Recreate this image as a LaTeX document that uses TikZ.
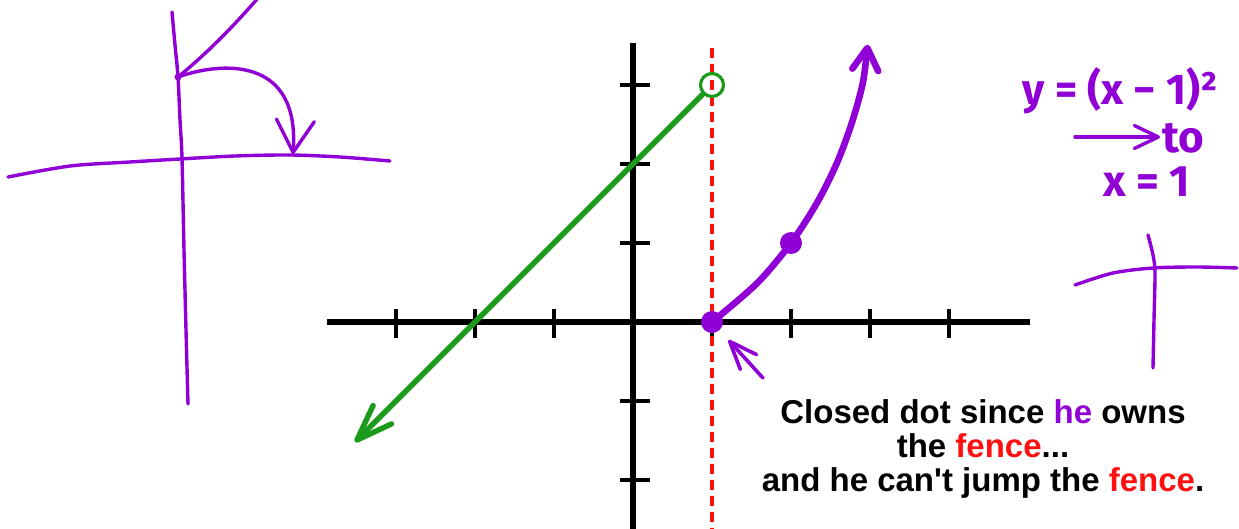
\documentclass[tikz,border=0pt]{standalone}
\usepackage{fontspec}
\setmainfont{Liberation Sans}
\newfontfamily\handfont{Fira Sans}
\usetikzlibrary{arrows.meta}
\definecolor{FenceInk}{HTML}{000000}
\definecolor{FencePurple}{HTML}{9000D6}
\definecolor{FenceGreen}{HTML}{1C9A1C}
\definecolor{FenceRed}{HTML}{FF1010}
\tikzset{
  fence/axis/.style={draw=FenceInk, line width=2.9pt},
  fence/tick/.style={draw=FenceInk, line width=1.7pt},
  fence/wall/.style={draw=FenceRed, line width=2pt, dash pattern=on 5pt off 3pt},
  fence/line/.style={
    draw=FenceGreen, line width=2.7pt, line cap=round,
    -{Straight Barb[length=18pt,width=13pt,round]}
  },
  fence/curve/.style={
    draw=FencePurple, line width=3.3pt, line cap=round,
    -{Straight Barb[length=11pt,width=13pt,round]}
  },
  fence/hole/.style={circle, draw=FenceGreen, line width=1.6pt,
    minimum size=11.5pt, inner sep=0pt},
  fence/dot/.style={circle, fill=FencePurple, minimum size=11pt, inner sep=0pt},
  fence/pin/.style={circle, fill=FencePurple, minimum size=3.5pt, inner sep=0pt},
  fence/hand/.style={draw=FencePurple, line width=1.7pt, line cap=round, line join=round},
  fence/pointer/.style={
    fence/hand, line width=1.8pt,
    -{Straight Barb[length=14pt,width=11pt,round]}
  },
  fence/handtext/.style={text=FencePurple, inner sep=1pt,
    font=\handfont\bfseries\fontsize{#1}{#1}\selectfont},
  fence/caption/.style={
    align=center, inner sep=0pt,
    font=\fontsize{16.5}{17}\selectfont\bfseries
  }
}

\begin{document}
\begin{tikzpicture}[x=0.5pt,y=-0.5pt]
  \useasboundingbox (0,0) rectangle (1239,529);
  % left sketch
  \draw[fence/hand] plot[smooth] coordinates
    {(172,12) (175,45) (178,77) (180,120) (182,158) (184,250) (186,330) (188,404)};
  \draw[fence/hand] plot[smooth] coordinates
    {(8,177) (70,166) (130,162) (180,159) (235,156) (290,155) (340,157) (390,161)};
  \node[fence/pin] (corner) at (178,77) {};
  \draw[fence/hand] (corner.center) .. controls (205,55) and (232,28) .. (258,-2);
  \draw[fence/hand, -{Straight Barb[length=16pt,width=19pt,round]}]
    (corner.center) .. controls (220,62) and (300,55) .. (293,154);
  % the graph
  \begin{scope}[shift={(316.5pt,-161pt)}, x=39.5pt, y=39.5pt]
    \draw[fence/axis] (-3.87,0) -- (5.03,0);
    \draw[fence/axis] (0,3.53) -- (0,-2.62);
    \foreach \x in {-3,-2,-1,1,2,3,4}
      \draw[fence/tick] (\x,0.165) -- (\x,-0.2);
    \foreach \y in {-2,-1,1,2,3}
      \draw[fence/tick] (-0.165,\y) -- (0.215,\y);
    \draw[fence/wall] (1,3.47) -- (1,-2.62);
    \node[fence/hole] (hole) at (1,3) {};
    \coordinate (greenend) at (-3.52,-1.52);
    \draw[fence/line] (hole) -- (greenend);
    \node[fence/dot] (post) at (1,0) {};
    \node[fence/dot] (mid) at (2,1) {};
    \coordinate (purpleend) at (2.97,3.51);
    \draw[fence/curve] plot[smooth] coordinates
      {(post.center) (1.57,0.49) (mid.center) (2.33,1.51) (2.58,2.01)
       (2.77,2.52) (2.91,3.03) (purpleend)};
  \end{scope}
  \coordinate (pointer) at (763,378);
  \draw[fence/pointer, shorten >=6.5pt] (pointer) -- (post);
  \node[fence/caption, anchor=north] (caption) at (983,399)
    {Closed dot since \textcolor{FencePurple}{he} owns\\
     the \textcolor{FenceRed}{fence}...\\
     and he can\textquotesingle t jump the \textcolor{FenceRed}{fence}.};
  % right notes
  \node[fence/handtext=21.5] (rule) at (1120,91) {y = (x − 1)²};
  \node[fence/handtext=22, anchor=west] (toword) at (1160,138) {to};
  \node[fence/handtext=22] (onex) at (1147,182) {x = 1};
  \coordinate (tostart) at (1075,137);
  \draw[fence/hand, -{Straight Barb[length=12pt,width=11.5pt,round]}]
    (tostart) -- (tostart -| toword.west);
  \draw[fence/hand] plot[smooth] coordinates
    {(1075,285) (1113,273) (1153,268) (1197,267) (1237,268)};
  \draw[fence/hand] plot[smooth] coordinates
    {(1148,235) (1153,255) (1155,273) (1154,320) (1153,368)};
\end{tikzpicture}
\end{document}
